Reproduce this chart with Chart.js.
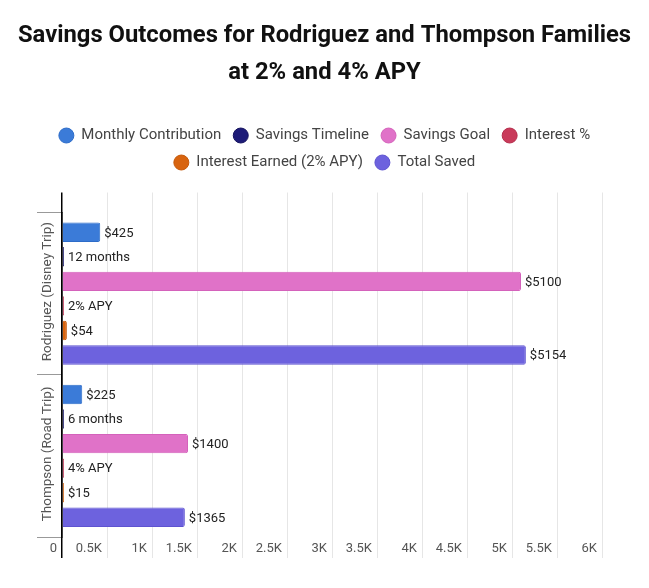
<!DOCTYPE html>
<html>
<head>
<meta charset="utf-8">
<script src="https://cdn.jsdelivr.net/npm/chart.js@4.4.1/dist/chart.umd.min.js"></script>
<style>
  html, body { margin: 0; padding: 0; background: #fff; }
  #wrap { width: 649px; height: 588px; position: relative; }
</style>
</head>
<body>
<div id="wrap"><canvas id="myChart"></canvas></div>
<script>
  // data
  var categories = ['Rodriguez (Disney Trip)', 'Thompson (Road Trip)'];
  var seriesNames = ['Monthly Contribution', 'Savings Timeline', 'Savings Goal', 'Interest %', 'Interest Earned (2% APY)', 'Total Saved'];
  var monthlyContribution = [425, 225];
  var savingsTimeline = [12, 6];
  var savingsGoal = [5100, 1400];
  var interestRate = [2, 4];
  var interestEarned = [54, 15];
  var totalSaved = [5154, 1365];
  var xTickLabels = ['0', '0.5K', '1K', '1.5K', '2K', '2.5K', '3K', '3.5K', '4K', '4.5K', '5K', '5.5K', '6K'];
  var labelPrefix = ['$', '', '$', '', '$', '$'];
  var labelSuffix = ['', ' months', '', '% APY', '', ''];

  var seriesValues = [monthlyContribution, savingsTimeline, savingsGoal, interestRate, interestEarned, totalSaved];
  var fillColors = ['#3b7bd8', '#1d1b78', '#e072c8', '#c93a5a', '#d8640f', '#6d62de'];
  var edgeColors = ['#2d6cc8', '#14125e', '#d462bb', '#b52d4c', '#c55808', '#5e53d0'];

  function gridColor(c) {
    return c.tick && c.tick.value === 0 ? '#000' : '#e6e6e6';
  }
  function gridWidth(c) {
    return c.tick && c.tick.value === 0 ? 1.5 : 1;
  }

  // value labels at the end of each bar
  var barLabels = {
    id: 'barLabels',
    afterDatasetsDraw: function (chart) {
      var ctx = chart.ctx;
      ctx.save();
      ctx.font = '13px Roboto';
      ctx.fillStyle = '#222';
      ctx.textAlign = 'left';
      ctx.textBaseline = 'middle';
      chart.data.datasets.forEach(function (ds, di) {
        chart.getDatasetMeta(di).data.forEach(function (bar, i) {
          ctx.fillText(labelPrefix[di] + ds.data[i] + labelSuffix[di], bar.x + 4, bar.y + 1);
        });
      });
      ctx.restore();
    }
  };

  // rotated category names inside the y tick area
  var catLabels = {
    id: 'catLabels',
    afterDraw: function (chart) {
      var ctx = chart.ctx;
      var y = chart.scales.y;
      ctx.save();
      ctx.font = '13.5px Roboto';
      ctx.fillStyle = '#555';
      ctx.textAlign = 'center';
      ctx.textBaseline = 'middle';
      categories.forEach(function (name, i) {
        ctx.save();
        ctx.translate(y.right - 14, y.getPixelForValue(i) - 2);
        ctx.rotate(-Math.PI / 2);
        ctx.fillText(name, 0, 0);
        ctx.restore();
      });
      ctx.restore();
    }
  };

  var datasets = seriesNames.map(function (name, i) {
    return {
      label: name,
      data: seriesValues[i],
      backgroundColor: fillColors[i],
      borderColor: edgeColors[i],
      borderWidth: 1,
      borderRadius: 2,
      minBarLength: 2
    };
  });

  var ctx = document.getElementById('myChart').getContext('2d');
  var chart = new Chart(ctx, {
    type: 'bar',
    data: { labels: categories, datasets: datasets },
    options: {
      indexAxis: 'y',
      responsive: true,
      maintainAspectRatio: false,
      animation: false,
      font: { family: 'Roboto' },
      layout: { padding: { left: 0, right: 0, top: 0, bottom: 29 } },
      datasets: { bar: { categoryPercentage: 0.908, barPercentage: 0.79 } },
      scales: {
        x: {
          type: 'linear',
          position: 'bottom',
          min: 0,
          max: 6000,
          border: { display: false },
          grid: { color: gridColor, tickColor: gridColor, lineWidth: gridWidth, tickLength: 21 },
          ticks: {
            stepSize: 500,
            autoSkip: false,
            maxRotation: 0,
            align: 'end',
            labelOffset: -5,
            padding: -17,
            color: '#555',
            font: { family: 'Roboto', size: 13 },
            callback: function (v, i) { return xTickLabels[i]; }
          },
          afterFit: function (s) { s.height = 22; }
        },
        xTop: {
          type: 'linear',
          position: 'top',
          min: 0,
          max: 6000,
          border: { display: false },
          grid: { drawOnChartArea: false, color: gridColor, tickColor: gridColor, lineWidth: gridWidth, tickLength: 20 },
          ticks: { display: false, stepSize: 500 },
          afterFit: function (s) { s.height = 32.5; }
        },
        y: {
          type: 'category',
          border: { color: '#000', width: 1.5 },
          grid: { drawOnChartArea: false, offset: true, tickLength: 25, color: '#999', tickColor: '#999' },
          ticks: { display: false },
          afterFit: function (s) { s.width = 62; }
        },
        yRight: {
          type: 'category',
          position: 'right',
          border: { display: false },
          grid: { display: false },
          ticks: { display: false },
          afterFit: function (s) { s.width = 47; }
        }
      },
      plugins: {
        title: {
          display: true,
          text: ['Savings Outcomes for Rodriguez and Thompson Families', 'at 2% and 4% APY'],
          color: '#111',
          font: { family: 'Roboto', size: 23.8, weight: 'bold', lineHeight: 1.555 },
          padding: { top: 18, bottom: 24 }
        },
        legend: {
          position: 'top',
          labels: {
            usePointStyle: true,
            pointStyle: 'circle',
            boxWidth: 15,
            boxHeight: 10.6,
            padding: 12,
            color: '#444',
            font: { family: 'Roboto', size: 15 }
          }
        },
        tooltip: { enabled: false }
      }
    },
    plugins: [barLabels, catLabels]
  });
</script>
</body>
</html>
